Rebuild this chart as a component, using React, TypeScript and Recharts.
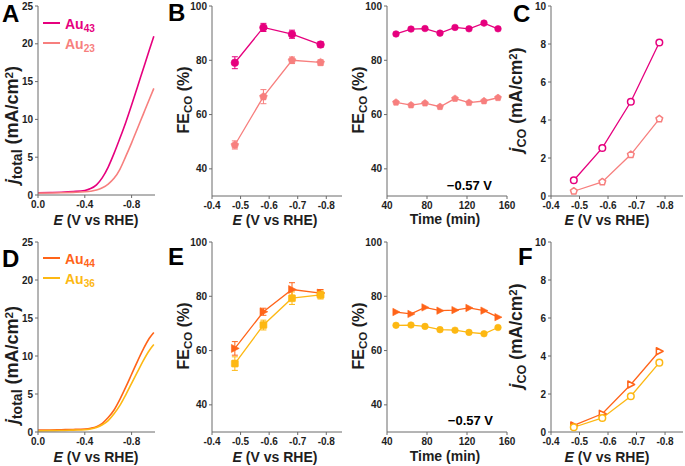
import React from 'react';
import { LineChart, Line, XAxis, YAxis, ErrorBar } from 'recharts';

const FONT = "'Liberation Sans', Arial, Helvetica, sans-serif";
const C43 = '#E6007E';
const C23 = '#F77F7E';
const C44 = '#FF6419';
const C36 = '#FDB813';
const AX = '#6a6a6a';
const TXT = '#1e1e1e';

// ---------- Panel A / D : linear sweep voltammetry ----------
const lsvPotential = [0, -0.1, -0.2, -0.3, -0.4, -0.45, -0.5, -0.55, -0.6, -0.65, -0.7, -0.75, -0.8, -0.85, -0.9, -0.95, -0.99];
const jTotalAu43 = [0.3, 0.33, 0.37, 0.45, 0.6, 0.85, 1.35, 2.3, 3.7, 5.5, 7.5, 9.6, 11.9, 14.3, 16.7, 19.1, 21.0];
const jTotalAu23 = [0.25, 0.27, 0.3, 0.35, 0.42, 0.5, 0.65, 0.95, 1.45, 2.2, 3.4, 5.1, 6.9, 8.8, 10.7, 12.6, 14.1];
const jTotalAu44 = [0.25, 0.27, 0.3, 0.33, 0.4, 0.5, 0.7, 1.15, 1.9, 2.9, 4.3, 5.9, 7.6, 9.3, 10.9, 12.3, 13.1];
const jTotalAu36 = [0.15, 0.18, 0.2, 0.25, 0.3, 0.4, 0.6, 0.95, 1.5, 2.4, 3.5, 4.9, 6.4, 7.9, 9.4, 10.7, 11.5];

// ---------- Panels B / E / C / F : potential dependence ----------
const potentials = [-0.48, -0.58, -0.68, -0.78];
const feAu43 = [79.1, 92.1, 89.6, 85.8];
const feAu43Err = [2.2, 1.5, 1.5, 1.0];
const feAu23 = [48.8, 66.6, 80.0, 79.2];
const feAu23Err = [1.5, 2.6, 1.2, 1.0];
const feAu44 = [60.8, 74.3, 82.5, 81.2];
const feAu44Err = [2.5, 1.3, 2.5, 1.3];
const feAu36 = [55.2, 69.4, 79.3, 80.5];
const feAu36Err = [2.5, 1.8, 2.3, 1.5];

const jcoAu43 = [0.83, 2.53, 4.96, 8.08];
const jcoAu23 = [0.25, 0.74, 2.18, 4.06];
const jcoAu44 = [0.35, 0.96, 2.5, 4.25];
const jcoAu36 = [0.25, 0.74, 1.88, 3.65];

// ---------- Stability at -0.57 V ----------
const times = [49, 64, 78, 93, 108, 122, 137, 151];
const stabAu43 = [89.7, 91.5, 91.7, 90.0, 92.1, 91.6, 93.7, 91.6];
const stabAu23 = [64.5, 63.5, 64.2, 62.9, 65.9, 64.4, 65.0, 66.2];
const stabAu44 = [74.2, 73.5, 75.9, 74.7, 74.9, 75.7, 74.7, 72.3];
const stabAu36 = [69.3, 69.4, 68.9, 67.7, 67.5, 66.7, 66.2, 68.5];

const feTicks = [40, 60, 80, 100];
const eTicks = [-0.4, -0.5, -0.6, -0.7, -0.8];
const lsvTicks = [0, -0.4, -0.8];
const lsvYTicks = [0, 5, 10, 15, 20, 25];
const jcoTicks = [0, 2, 4, 6, 8, 10];
const timeTicks = [40, 80, 120, 160];

const lsvTop = lsvPotential.map((e, i) => ({ e, a: jTotalAu43[i], b: jTotalAu23[i] }));
const lsvBot = lsvPotential.map((e, i) => ({ e, a: jTotalAu44[i], b: jTotalAu36[i] }));
const feTop = potentials.map((e, i) => ({ e, a: feAu43[i], ae: feAu43Err[i], b: feAu23[i], be: feAu23Err[i] }));
const feBot = potentials.map((e, i) => ({ e, a: feAu44[i], ae: feAu44Err[i], b: feAu36[i], be: feAu36Err[i] }));
const jcoTop = potentials.map((e, i) => ({ e, a: jcoAu43[i], b: jcoAu23[i] }));
const jcoBot = potentials.map((e, i) => ({ e, a: jcoAu44[i], b: jcoAu36[i] }));
const stTop = times.map((t, i) => ({ t, a: stabAu43[i], b: stabAu23[i] }));
const stBot = times.map((t, i) => ({ t, a: stabAu44[i], b: stabAu36[i] }));

type Rect = { x: number; y: number; w: number; h: number };
const YW = 30;
const XH = 22;
const MT = 4;
const MR = 12;

const tickStyle = { fontSize: 10, fontWeight: 700, fill: TXT, fontFamily: FONT };

type Shape = 'circle' | 'tri' | 'square' | 'pent';
const marker = (shape: Shape, color: string, filled: boolean, s: number) => (p: any) => {
  const { cx, cy, index } = p;
  const key = `m${index}`;
  if (cx == null || cy == null) return <g key={key} />;
  const fill = filled ? color : '#fff';
  const sw = filled ? 0.6 : 1.5;
  if (shape === 'circle') return <circle key={key} cx={cx} cy={cy} r={s} fill={fill} stroke={color} strokeWidth={sw} />;
  if (shape === 'square') return <rect key={key} x={cx - s} y={cy - s} width={2 * s} height={2 * s} rx={1} fill={fill} stroke={color} strokeWidth={sw} />;
  if (shape === 'tri')
    return <path key={key} d={`M${cx - s * 0.9},${cy - s * 1.05}L${cx + s * 1.15},${cy}L${cx - s * 0.9},${cy + s * 1.05}Z`} fill={fill} stroke={color} strokeWidth={sw} strokeLinejoin="round" />;
  const pts: string[] = [];
  for (let k = 0; k < 5; k++) {
    const a = -Math.PI / 2 + (k * 2 * Math.PI) / 5;
    pts.push(`${cx + s * 1.1 * Math.cos(a)},${cy + s * 1.1 * Math.sin(a)}`);
  }
  return <polygon key={key} points={pts.join(' ')} fill={fill} stroke={color} strokeWidth={sw} strokeLinejoin="round" />;
};

function Panel(props: {
  r: Rect;
  data: any[];
  xKey: string;
  xDomain: [number, number];
  xTicks: number[];
  xReversed?: boolean;
  yDomain: [number, number];
  yTicks: number[];
  children: React.ReactNode;
}) {
  const { r, data, xKey, xDomain, xTicks, xReversed, yDomain, yTicks, children } = props;
  return (
    <div style={{ position: 'absolute', left: r.x - YW, top: r.y - MT }}>
      <LineChart width={YW + r.w + MR} height={MT + r.h + XH} data={data} margin={{ top: MT, right: MR, bottom: 0, left: 0 }}>
        <XAxis
          dataKey={xKey}
          type="number"
          domain={xDomain}
          ticks={xTicks}
          reversed={xReversed}
          allowDataOverflow
          height={XH}
          tick={tickStyle}
          tickSize={3}
          tickMargin={3}
          tickFormatter={(v: number) => (xReversed ? v.toFixed(1) : String(v))}
          axisLine={{ stroke: AX }}
          tickLine={{ stroke: AX }}
          interval={0}
        />
        <XAxis xAxisId="top" orientation="top" type="number" domain={xDomain} allowDataOverflow height={0} tick={false} tickLine={false} axisLine={{ stroke: AX }} />
        <YAxis
          type="number"
          domain={yDomain}
          ticks={yTicks}
          allowDataOverflow
          width={YW}
          tick={tickStyle}
          tickSize={3}
          tickMargin={2}
          axisLine={{ stroke: AX }}
          tickLine={{ stroke: AX }}
          interval={0}
        />
        <YAxis yAxisId="right" orientation="right" type="number" domain={yDomain} allowDataOverflow width={0} tick={false} tickLine={false} axisLine={{ stroke: AX }} />
        {children}
      </LineChart>
    </div>
  );
}

const abs = (extra: React.CSSProperties): React.CSSProperties => ({
  position: 'absolute',
  fontFamily: FONT,
  fontWeight: 700,
  color: TXT,
  lineHeight: 1,
  whiteSpace: 'nowrap',
  ...extra,
});

const Sub = ({ children, s = 0.72 }: { children: React.ReactNode; s?: number }) => (
  <span style={{ fontSize: `${s}em`, position: 'relative', top: '0.28em' }}>{children}</span>
);
const Sup = ({ children }: { children: React.ReactNode }) => (
  <span style={{ fontSize: '0.65em', position: 'relative', top: '-0.45em' }}>{children}</span>
);

function VTitle({ cx, cy, children, size = 16 }: { cx: number; cy: number; children: React.ReactNode; size?: number }) {
  return (
    <div style={abs({ left: cx, top: cy, fontSize: size, transform: 'translate(-50%,-50%) rotate(-90deg)' })}>{children}</div>
  );
}
function HTitle({ cx, top, children }: { cx: number; top: number; children: React.ReactNode }) {
  return <div style={abs({ left: cx, top, fontSize: 14, transform: 'translateX(-50%)' })}>{children}</div>;
}
const ETitle = () => (
  <>
    <i>E</i> (V vs RHE)
  </>
);
const JTotal = () => (
  <>
    <i>j</i>
    <Sub s={0.78}>total</Sub> (mA/cm<Sup>2</Sup>)
  </>
);
const JCO = () => (
  <>
    <i>j</i>
    <Sub>CO</Sub> (mA/cm<Sup>2</Sup>)
  </>
);
const FECO = () => (
  <>
    FE<Sub>CO</Sub> (%)
  </>
);

function LegendRow({ y, color, label, sub }: { y: number; color: string; label: string; sub: string }) {
  return (
    <>
      <div style={{ position: 'absolute', left: 43, top: y - 1, width: 17, height: 2.2, background: color }} />
      <div style={abs({ left: 65, top: y - 6, fontSize: 14, color })}>
        {label}
        <Sub>{sub}</Sub>
      </div>
    </>
  );
}

const Letter = ({ x, top, t }: { x: number; top: number; t: string }) => (
  <div style={abs({ left: x, top, fontSize: 24, color: '#000' })}>{t}</div>
);

const rA: Rect = { x: 38, y: 6, w: 117, h: 189 };
const rB: Rect = { x: 212, y: 6, w: 130, h: 190 };
const rT1: Rect = { x: 387, y: 6, w: 120, h: 190 };
const rC: Rect = { x: 551, y: 6, w: 132, h: 190 };
const rD: Rect = { x: 38, y: 242, w: 117, h: 190 };
const rE: Rect = { x: 212, y: 242, w: 130, h: 190 };
const rT2: Rect = { x: 387, y: 242, w: 120, h: 190 };
const rF: Rect = { x: 551, y: 242, w: 132, h: 190 };

const LW = 1.3;

export default function App() {
  return (
    <div style={{ position: 'absolute', left: 0, top: 0, width: 685, height: 466, background: '#fff', overflow: 'hidden' }}>
      {/* A */}
      <Panel r={rA} data={lsvTop} xKey="e" xDomain={[-1.0, 0]} xTicks={lsvTicks} xReversed yDomain={[0, 25]} yTicks={lsvYTicks}>
        <Line type="monotone" dataKey="a" stroke={C43} strokeWidth={1.6} dot={false} isAnimationActive={false} />
        <Line type="monotone" dataKey="b" stroke={C23} strokeWidth={1.6} dot={false} isAnimationActive={false} />
      </Panel>
      {/* B */}
      <Panel r={rB} data={feTop} xKey="e" xDomain={[-0.855, -0.4]} xTicks={eTicks} xReversed yDomain={[30, 100]} yTicks={feTicks}>
        <Line type="linear" dataKey="a" stroke={C43} strokeWidth={LW} dot={marker('circle', C43, true, 3.8)} isAnimationActive={false}>
          <ErrorBar dataKey="ae" width={3} stroke={C43} strokeWidth={1} direction="y" />
        </Line>
        <Line type="linear" dataKey="b" stroke={C23} strokeWidth={LW} dot={marker('pent', C23, true, 3.7)} isAnimationActive={false}>
          <ErrorBar dataKey="be" width={3} stroke={C23} strokeWidth={1} direction="y" />
        </Line>
      </Panel>
      {/* stability top */}
      <Panel r={rT1} data={stTop} xKey="t" xDomain={[40, 160]} xTicks={timeTicks} yDomain={[30, 100]} yTicks={feTicks}>
        <Line type="linear" dataKey="a" stroke={C43} strokeWidth={LW} dot={marker('circle', C43, true, 3.3)} isAnimationActive={false} />
        <Line type="linear" dataKey="b" stroke={C23} strokeWidth={LW} dot={marker('pent', C23, true, 3.3)} isAnimationActive={false} />
      </Panel>
      {/* C */}
      <Panel r={rC} data={jcoTop} xKey="e" xDomain={[-0.863, -0.4]} xTicks={eTicks} xReversed yDomain={[0, 10]} yTicks={jcoTicks}>
        <Line type="linear" dataKey="a" stroke={C43} strokeWidth={LW} dot={marker('circle', C43, false, 3.3)} isAnimationActive={false} />
        <Line type="linear" dataKey="b" stroke={C23} strokeWidth={LW} dot={marker('pent', C23, false, 3.2)} isAnimationActive={false} />
      </Panel>
      {/* D */}
      <Panel r={rD} data={lsvBot} xKey="e" xDomain={[-1.0, 0]} xTicks={lsvTicks} xReversed yDomain={[0, 25]} yTicks={lsvYTicks}>
        <Line type="monotone" dataKey="a" stroke={C44} strokeWidth={1.6} dot={false} isAnimationActive={false} />
        <Line type="monotone" dataKey="b" stroke={C36} strokeWidth={1.6} dot={false} isAnimationActive={false} />
      </Panel>
      {/* E */}
      <Panel r={rE} data={feBot} xKey="e" xDomain={[-0.855, -0.4]} xTicks={eTicks} xReversed yDomain={[30, 100]} yTicks={feTicks}>
        <Line type="linear" dataKey="a" stroke={C44} strokeWidth={LW} dot={marker('tri', C44, true, 3.8)} isAnimationActive={false}>
          <ErrorBar dataKey="ae" width={3} stroke={C44} strokeWidth={1} direction="y" />
        </Line>
        <Line type="linear" dataKey="b" stroke={C36} strokeWidth={LW} dot={marker('square', C36, true, 3.5)} isAnimationActive={false}>
          <ErrorBar dataKey="be" width={3} stroke={C36} strokeWidth={1} direction="y" />
        </Line>
      </Panel>
      {/* stability bottom */}
      <Panel r={rT2} data={stBot} xKey="t" xDomain={[40, 160]} xTicks={timeTicks} yDomain={[30, 100]} yTicks={feTicks}>
        <Line type="linear" dataKey="a" stroke={C44} strokeWidth={LW} dot={marker('tri', C44, true, 3.5)} isAnimationActive={false} />
        <Line type="linear" dataKey="b" stroke={C36} strokeWidth={LW} dot={marker('circle', C36, true, 3.3)} isAnimationActive={false} />
      </Panel>
      {/* F */}
      <Panel r={rF} data={jcoBot} xKey="e" xDomain={[-0.863, -0.4]} xTicks={eTicks} xReversed yDomain={[0, 10]} yTicks={jcoTicks}>
        <Line type="linear" dataKey="a" stroke={C44} strokeWidth={LW} dot={marker('tri', C44, false, 3.3)} isAnimationActive={false} />
        <Line type="linear" dataKey="b" stroke={C36} strokeWidth={LW} dot={marker('circle', C36, false, 3.3)} isAnimationActive={false} />
      </Panel>

      {/* legends */}
      <LegendRow y={23.3} color={C43} label="Au" sub="43" />
      <LegendRow y={43.3} color={C23} label="Au" sub="23" />
      <LegendRow y={258.3} color={C44} label="Au" sub="44" />
      <LegendRow y={278.3} color={C36} label="Au" sub="36" />

      {/* potential annotations */}
      <div style={abs({ left: 492, top: 179, fontSize: 13, transform: 'translateX(-100%)', color: '#000' })}>−0.57 V</div>
      <div style={abs({ left: 493, top: 414, fontSize: 13, transform: 'translateX(-100%)', color: '#000' })}>−0.57 V</div>

      {/* y titles */}
      <VTitle cx={12} cy={125} size={18}><JTotal /></VTitle>
      <VTitle cx={184} cy={100}><FECO /></VTitle>
      <VTitle cx={359} cy={100}><FECO /></VTitle>
      <VTitle cx={516.5} cy={100} size={17.5}><JCO /></VTitle>
      <VTitle cx={12} cy={365} size={18}><JTotal /></VTitle>
      <VTitle cx={184} cy={336}><FECO /></VTitle>
      <VTitle cx={359} cy={336}><FECO /></VTitle>
      <VTitle cx={516.5} cy={336} size={17.5}><JCO /></VTitle>

      {/* x titles */}
      <HTitle cx={96} top={213}><ETitle /></HTitle>
      <HTitle cx={275} top={213}><ETitle /></HTitle>
      <HTitle cx={445} top={212}>Time (min)</HTitle>
      <HTitle cx={607} top={213}><ETitle /></HTitle>
      <HTitle cx={96} top={450}><ETitle /></HTitle>
      <HTitle cx={275} top={450}><ETitle /></HTitle>
      <HTitle cx={445} top={449}>Time (min)</HTitle>
      <HTitle cx={607} top={450}><ETitle /></HTitle>

      {/* panel letters */}
      <Letter x={2} top={1.7} t="A" />
      <Letter x={168} top={0.5} t="B" />
      <Letter x={513} top={1.7} t="C" />
      <Letter x={2} top={246.7} t="D" />
      <Letter x={168} top={244.7} t="E" />
      <Letter x={518} top={244.7} t="F" />
    </div>
  );
}
